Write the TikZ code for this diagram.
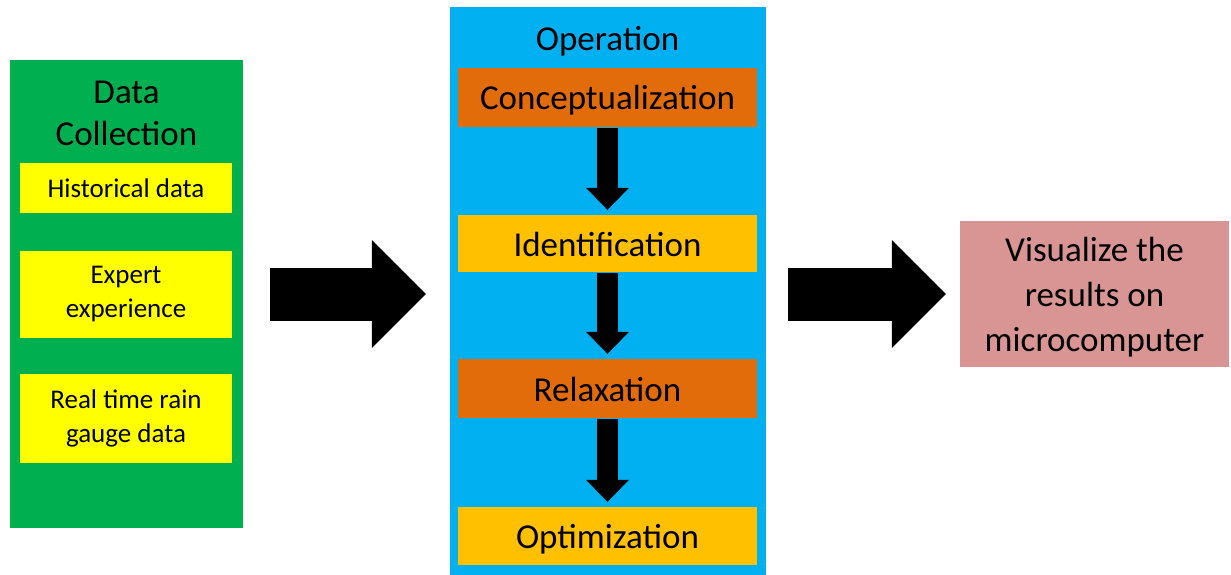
\documentclass[tikz,border=0pt]{standalone}
\usepackage{fontspec}
\setmainfont{Carlito}
\usetikzlibrary{arrows.meta,positioning}

\definecolor{panelgreen}{HTML}{00B050}
\definecolor{panelblue}{HTML}{00B0F0}
\definecolor{boxyellow}{HTML}{FFFF00}
\definecolor{boxorange}{HTML}{E36C0A}
\definecolor{boxgold}{HTML}{FFC000}
\definecolor{boxpink}{HTML}{D99594}

\begin{document}
\begin{tikzpicture}[x=1pt,y=-1pt,
  bigtext/.style={font=\fontsize{35}{42}\selectfont, align=center},
  ybox/.style={fill=boxyellow, minimum width=212pt, inner sep=0pt, align=center, font=\fontsize{27}{34}\selectfont},
  stepbox/.style={minimum width=299pt, minimum height=58pt, inner sep=0pt, text height=31pt, text depth=6pt, font=\fontsize{35}{42}\selectfont},
  bigarrow/.style={line width=53pt, -{Triangle[width=108pt,length=54pt,line width=0pt]}},
  downarrow/.style={line width=21pt, -{Triangle[width=43pt,length=22pt,line width=0pt]}, shorten <=1pt, shorten >=5pt}]
 \useasboundingbox (0,0) rectangle (1231,575);
 % data collection
 \node[fill=panelgreen, minimum width=233pt, minimum height=467pt, inner sep=0pt] (collect) at (126.5,294) {};
 \node[bigtext] (collecttitle) at (126.5,113) {Data\\Collection};
 \node[ybox, minimum height=50pt] (hist) at (126,188) {Historical data};
 \node[ybox, minimum height=87pt] (expert) at (126,294.5) {Expert\\experience};
 \node[ybox, minimum height=89pt] (gauge) at (126,418) {Real time rain\\gauge data};
 % operation
 \node[fill=panelblue, minimum width=316pt, minimum height=568pt, inner sep=0pt] (oper) at (608,291) {};
 \node[bigtext, anchor=base] (opertitle) at (607.5,51) {Operation};
 \node[stepbox, fill=boxorange, minimum height=59pt] (concept) at (607.5,97.5) {Conceptualization};
 \node[stepbox, fill=boxgold, minimum height=57pt] (ident) at (607.5,243.5) {Identification};
 \node[stepbox, fill=boxorange, minimum height=59pt] (relax) at (607.5,388.5) {Relaxation};
 \node[stepbox, fill=boxgold] (optim) at (607.5,536) {Optimization};
 \draw[downarrow] (concept) -- (ident);
 \draw[downarrow] (ident) -- (relax);
 \draw[downarrow] (relax) -- (optim);
 % result
 \node[fill=boxpink, minimum width=269pt, minimum height=146pt, inner sep=0pt] (visual) at (1094.5,294) {};
 \node[align=center, font=\fontsize{35}{45}\selectfont] (visualtext) at (1094.5,297) {Visualize the\\results on\\microcomputer};
 % big arrows
 \draw[bigarrow, shorten <=27pt, shorten >=24pt] (collect.east) -- (collect.east -| oper.west);
 \draw[bigarrow, shorten <=22pt, shorten >=14pt] (oper.east |- visual.west) -- (visual.west);
\end{tikzpicture}
\end{document}
